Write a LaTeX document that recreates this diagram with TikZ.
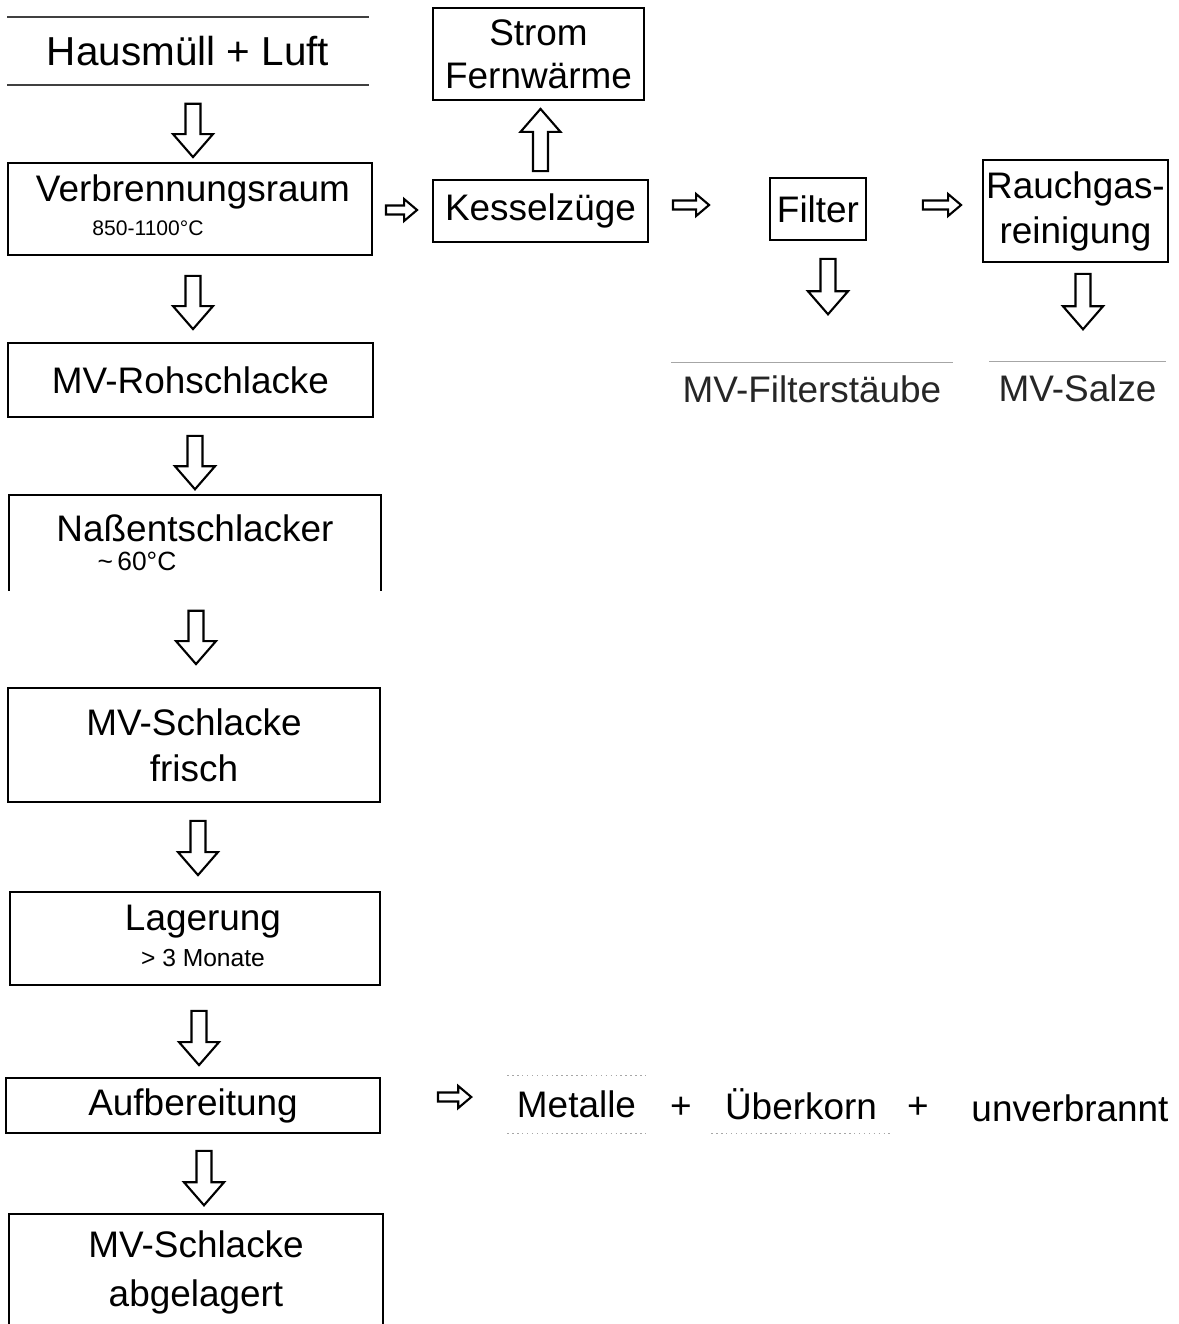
\documentclass[tikz,border=0pt]{standalone}
\usepackage{fontspec}
\setmainfont{Liberation Sans}
\usetikzlibrary{calc}
\tikzset{>=stealth,
  box/.style={draw, line width=0.5pt, inner sep=0pt, align=center, font=\fontsize{10.5}{12.6}\selectfont},
  bare/.style={inner sep=0pt, align=center, font=\fontsize{10.5}{12.6}\selectfont},
  small/.style={inner sep=0pt, font=\fontsize{6.5}{8}\selectfont},
  flowline/.style={line width=0.6pt, line join=miter, fill=white},
  faint/.style={draw=black!35, line width=0.4pt}
}
\newcommand{\blockarrow}[5]{%
  \coordinate (ba-s) at (#1);
  \coordinate (ba-t) at (#2);
  \coordinate (ba-h) at ($(ba-t)!#5!(ba-s)$);
  \draw[flowline] ($(ba-s)!#3!90:(ba-t)$) -- ($(ba-h)!#3!90:(ba-t)$) -- ($(ba-h)!#4!90:(ba-t)$) -- (ba-t)
    -- ($(ba-h)!#4!-90:(ba-t)$) -- ($(ba-h)!#3!-90:(ba-t)$) -- ($(ba-s)!#3!-90:(ba-t)$) -- cycle;
}
\newcommand{\downflow}[2]{\blockarrow{#1}{#2}{0.075cm}{0.2cm}{0.23cm}}
\newcommand{\sideflow}[2]{\blockarrow{#1}{#2}{0.045cm}{0.11cm}{0.13cm}}

\begin{document}
\begin{tikzpicture}[x=0.01cm, y=-0.01cm]
\useasboundingbox (0,0) rectangle (1178,1324);
\node[bare, minimum width=3.6cm, minimum height=0.66cm, font=\fontsize{11.5}{14}\selectfont] (haus) at (188,51) {Hausmüll + Luft};
\draw[black!75, line width=0.5pt] (haus.north west) -- (haus.north east);
\draw[black!75, line width=0.5pt] (haus.south west) -- (haus.south east);
\node[box, minimum width=2.11cm, minimum height=0.92cm, font=\fontsize{10.5}{12.2}\selectfont] (strom) at (538.5,54) {Strom\\Fernwärme};
\node[box, minimum width=3.64cm, minimum height=0.92cm] (verb) at (190,209) {};
\node[bare] (verbT) at (193,192) {Verbrennungsraum};
\node[small, font=\fontsize{6}{7}\selectfont] (verbS) at (148,228) {850-1100°C};
\node[box, minimum width=2.15cm, minimum height=0.62cm] (kessel) at (540.5,211) {Kesselzüge};
\node[box, minimum width=0.96cm, minimum height=0.62cm] (filter) at (818,209) {Filter};
\node[box, minimum width=1.85cm, minimum height=1.02cm, font=\fontsize{10.5}{12.8}\selectfont] (rauch) at (1075.5,211) {Rauchgas-\\reinigung};
\node[bare, minimum width=2.8cm, minimum height=0.52cm, text=black!85] (staub) at (812,389) {MV-Filterstäube};
\draw[faint] (staub.north west) -- (staub.north east);
\node[bare, minimum width=1.75cm, minimum height=0.52cm, text=black!85] (salze) at (1077.5,388) {MV-Salze};
\draw[faint] (salze.north west) -- (salze.north east);
\node[box, minimum width=3.65cm, minimum height=0.74cm] (roh) at (190.5,380) {MV-Rohschlacke};
\node[bare, minimum width=3.7cm, minimum height=0.94cm] (nass) at (195,543) {};
\draw[line width=0.5pt] (nass.south west) -- (nass.north west) -- (nass.north east) -- (nass.south east);
\node[bare] (nassT) at (195,528) {Naßentschlacker};
\node[small, font=\fontsize{7.5}{9}\selectfont] (nassS) at (137,561) {\textasciitilde\,60°C};
\node[box, minimum width=3.72cm, minimum height=1.14cm, font=\fontsize{10.5}{13}\selectfont] (frisch) at (194,745) {MV-Schlacke\\frisch};
\node[box, minimum width=3.7cm, minimum height=0.93cm] (lager) at (195,938.5) {};
\node[bare] (lagerT) at (203,922) {Lagerung};
\node[small, font=\fontsize{7}{8}\selectfont] (lagerS) at (203,958) {> 3 Monate};
\node[box, minimum width=3.74cm, minimum height=0.55cm] (aufb) at (193,1105.5) {Aufbereitung};
\node[bare, minimum width=3.72cm, minimum height=1.15cm, font=\fontsize{10.5}{14}\selectfont] (abgel) at (196,1272.5) {MV-Schlacke\\abgelagert};
\draw[line width=0.5pt] (abgel.south west) -- (abgel.north west) -- (abgel.north east) -- (abgel.south east);
\node[bare, minimum width=1.37cm, minimum height=0.57cm] (metall) at (576.5,1104.5) {Metalle};
\draw[faint, densely dotted] (metall.north west) -- (metall.north east);
\draw[faint, densely dotted] (metall.south west) -- (metall.south east);
\node[bare] (plus1) at (681,1108) {+};
\node[bare, minimum width=1.78cm, minimum height=0.57cm] (korn) at (801,1104.5) {Überkorn};
\draw[faint, densely dotted] (korn.south west) -- (korn.south east);
\node[bare] (plus2) at (918,1108) {+};
\node[bare] (unverb) at (1070,1108) {unverbrannt};
\downflow{$(haus.south)+(5,19)$}{$(verb.north)+(3,-5)$}
\downflow{$(verb.south)+(3,20)$}{$(roh.north)+(2.5,-13)$}
\downflow{$(roh.south)+(4.5,18)$}{$(nass.north)+(0,-6)$}
\downflow{$(nass.south)+(1,20)$}{$(frisch.north)+(2,-23)$}
\downflow{$(frisch.south)+(4,18)$}{$(lager.north)+(3,-16)$}
\downflow{$(lager.south)+(4,25)$}{$(aufb.north)+(6,-12)$}
\downflow{$(aufb.south)+(11,17)$}{$(abgel.north)+(8,-9)$}
\downflow{$(kessel.north)+(0,-8)$}{$(strom.south)+(2,8)$}
\downflow{$(filter.south)+(10,18)$}{$(staub.north)+(16,-48)$}
\downflow{$(rauch.south)+(7.5,11)$}{$(salze.north)+(5.5,-32)$}
\sideflow{$(verb.east)+(13,1)$}{$(kessel.west)+(-15,-1)$}
\sideflow{$(kessel.east)+(24,-6)$}{$(filter.west)+(-60,-4)$}
\sideflow{$(filter.east)+(56,-4)$}{$(rauch.west)+(-21,-6)$}
\sideflow{$(aufb.east)+(57,-8.5)$}{$(metall.west)+(-36,-7.5)$}
\end{tikzpicture}
\end{document}
